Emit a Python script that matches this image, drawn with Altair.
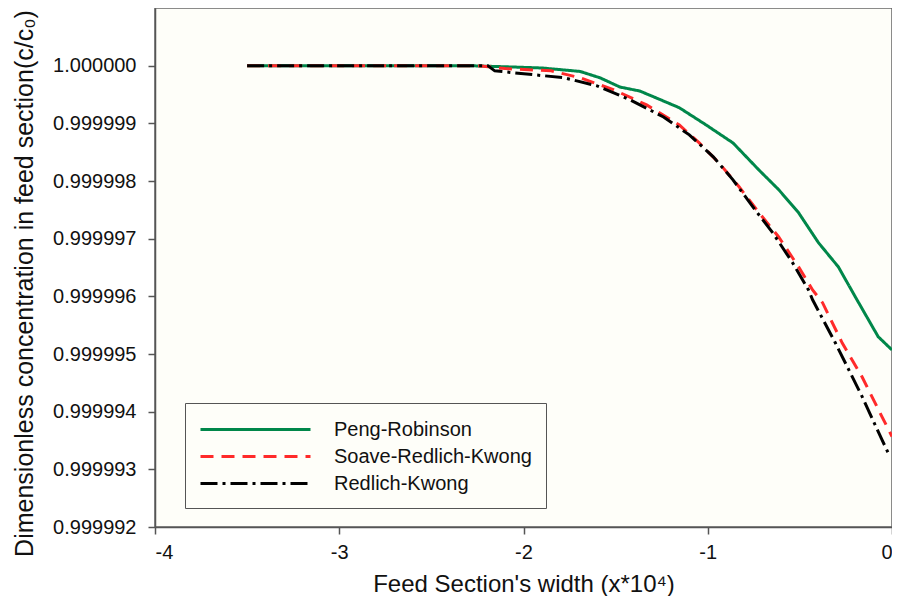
import altair as alt
import pandas as pd

series_names = ["Peng-Robinson", "Soave-Redlich-Kwong", "Redlich-Kwong"]

pr_x = [-3.5, -2.30, -2.09, -1.90, -1.693, -1.585, -1.477, -1.369, -1.294, -1.154, -1.008,
        -0.863, -0.722, -0.615, -0.507, -0.399, -0.291, -0.199, -0.075, 0.0]
pr_y = [1.0, 1.0, 0.99999998, 0.99999996, 0.99999990, 0.99999979, 0.99999963, 0.99999956,
        0.99999946, 0.99999927, 0.99999897, 0.99999866, 0.99999819, 0.99999785, 0.99999745,
        0.99999693, 0.99999651, 0.99999599, 0.99999530, 0.99999507]

srk_x = [-3.5, -2.25, -2.10, -1.85, -1.693, -1.509, -1.332, -1.154, -1.046, -0.938, -0.830,
         -0.722, -0.615, -0.507, -0.431, -0.377, -0.270, -0.162, -0.054, 0.0]
srk_y = [1.0, 1.0, 0.99999995, 0.99999991, 0.99999979, 0.99999958, 0.99999932, 0.99999897,
         0.99999866, 0.99999831, 0.99999790, 0.99999745, 0.99999703, 0.99999651, 0.99999611,
         0.99999589, 0.99999519, 0.99999460, 0.99999391, 0.99999357]

rk_x = [-3.5, -2.194, -2.156, -1.779, -1.601, -1.423, -1.240, -1.100, -0.970, -0.863, -0.755,
        -0.647, -0.539, -0.453, -0.431, -0.307, -0.162, -0.054, -0.011]
rk_y = [1.0, 1.0, 0.99999991, 0.99999979, 0.99999965, 0.99999941, 0.99999911, 0.99999880,
        0.99999842, 0.99999802, 0.99999755, 0.99999710, 0.99999658, 0.99999611, 0.99999594,
        0.99999519, 0.99999426, 0.99999351, 0.99999322]

x_ticks = [-4, -3, -2, -1, 0]
y_ticks = [0.999992, 0.999993, 0.999994, 0.999995, 0.999996, 0.999997, 0.999998, 0.999999, 1.0]

colors = ["#00874a", "#ff2a2a", "#000000"]
dashes = [[1, 0], [13, 8], [17, 5, 3, 5]]

rows = []
for name, xs, ys in zip(series_names, [pr_x, srk_x, rk_x], [pr_y, srk_y, rk_y]):
    for i, (xv, yv) in enumerate(zip(xs, ys)):
        rows.append({"series": name, "x": xv, "y": yv, "order": i})
df = pd.DataFrame(rows)

font = "Liberation Sans"

legend = alt.Legend(title=None, orient="none", legendX=30, legendY=395,
                    symbolType="M-1,0H9", symbolSize=484,
                    symbolStrokeWidth=3, labelOffset=110, labelLimit=400,
                    padding=14, rowPadding=4,
                    strokeColor="#555", fillColor="#fefef9",
                    labelFontSize=20, labelFont=font, labelColor="#111")

chart = alt.Chart(df).mark_line(strokeWidth=3).encode(
    x=alt.X("x:Q",
            scale=alt.Scale(domain=[-4, 0], nice=False, zero=False),
            axis=alt.Axis(values=x_ticks, labelExpr="'' + datum.value",
                          title="Feed Section's width (x*10⁴)", titlePadding=10,
                          titleFontSize=24, labelPadding=8)),
    y=alt.Y("y:Q",
            scale=alt.Scale(domain=[0.999992, 1.000001], nice=False, zero=False),
            axis=alt.Axis(values=y_ticks, format=".6f",
                          title="Dimensionless concentration in feed section(c/c₀)",
                          titleFontSize=25, titlePadding=15, titleY=275, labelPadding=12)),
    color=alt.Color("series:N",
                    scale=alt.Scale(domain=series_names, range=colors),
                    legend=legend),
    strokeDash=alt.StrokeDash("series:N",
                              scale=alt.Scale(domain=series_names, range=dashes),
                              legend=legend),
    order="order:Q",
).properties(
    width=737, height=519,
    autosize=alt.AutoSizeParams(type="none"),
    padding={"left": 147, "top": 0, "right": 0, "bottom": 69},
    background="#ffffff",
).configure_view(
    fill="#fefef9", stroke="#666", strokeWidth=1.5
).configure_axis(
    grid=False, domainColor="#555", domainWidth=1.5, tickColor="#555", tickWidth=1.5,
    tickSize=7, labelFont=font, labelFontSize=20, labelColor="#111",
    titleFont=font, titleFontSize=22, titleFontWeight="normal", titleColor="#111"
)

chart.save("out.html", embed_options={"renderer": "svg", "actions": False})
